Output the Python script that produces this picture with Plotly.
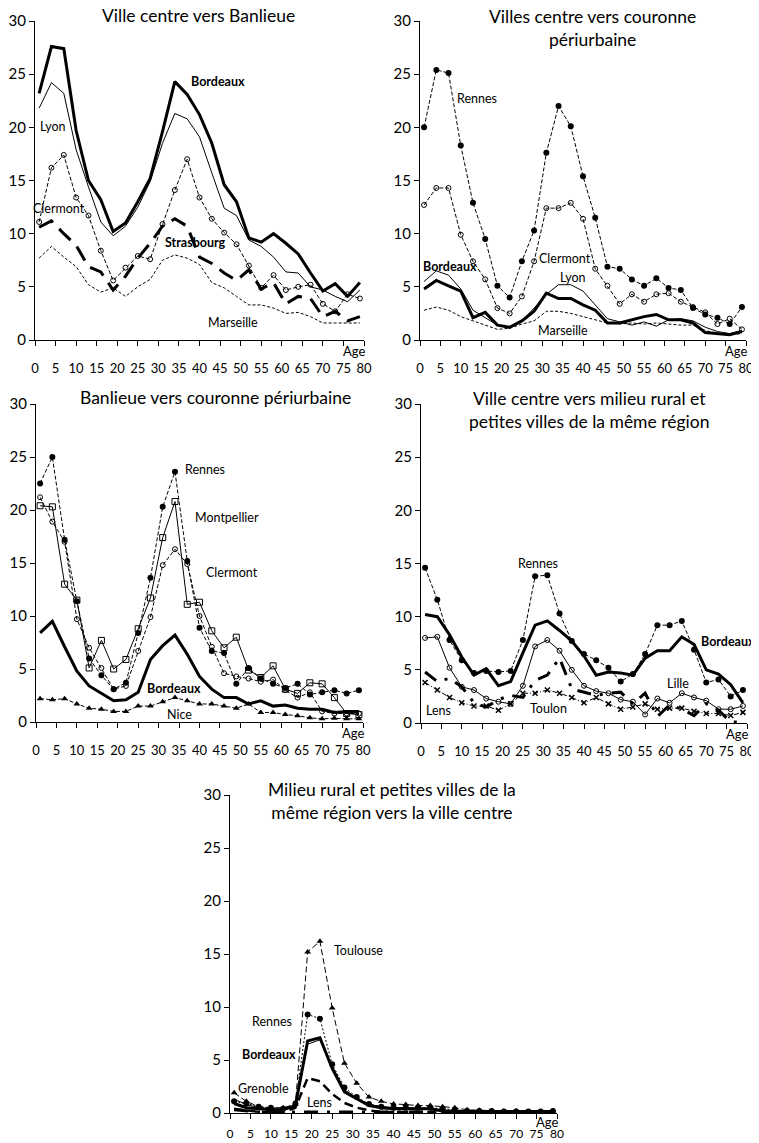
import plotly.graph_objects as go

ages = list(range(1, 80, 3))  # 1, 4, ..., 79

# Panel 1 : Ville centre vers Banlieue
p1_bordeaux = [23.2, 27.6, 27.4, 19.7, 15.0, 13.2, 10.2, 11.0, 13.0, 15.2, 19.6, 24.3, 23.1, 21.2,
               18.5, 14.6, 13.0, 9.6, 9.2, 10.0, 9.1, 8.1, 6.3, 4.6, 5.3, 4.1, 5.4]
p1_lyon = [21.8, 24.2, 23.2, 17.9, 14.4, 11.1, 9.8, 10.7, 12.5, 14.9, 18.5, 21.3, 20.8, 19.1,
           15.7, 12.4, 11.7, 9.4, 8.8, 7.8, 6.4, 6.3, 5.0, 4.7, 4.1, 3.6, 4.7]
p1_clermont = [11.1, 16.2, 17.4, 13.4, 11.7, 8.4, 5.6, 6.8, 7.9, 7.6, 10.9, 14.1, 17.0, 13.4,
               11.4, 10.1, 9.0, 7.0, 4.9, 6.1, 4.7, 5.0, 5.2, 3.4, 2.7, 4.3, 3.9]
p1_strasbourg = [10.6, 11.2, 10.0, 8.9, 6.9, 6.4, 4.7, 6.0, 7.7, 9.1, 10.7, 11.4, 10.7, 7.8,
                 7.2, 6.3, 5.6, 6.6, 4.8, 5.4, 3.4, 4.1, 3.9, 2.2, 2.7, 1.8, 2.2]
p1_marseille = [7.7, 8.8, 7.8, 6.9, 5.2, 4.5, 4.9, 4.1, 5.0, 5.7, 7.5, 8.0, 7.7, 7.1,
                5.4, 4.9, 4.1, 3.3, 3.3, 3.0, 2.5, 2.6, 2.2, 1.6, 1.6, 1.6, 1.6]

# Panel 2 : Villes centre vers couronne periurbaine
p2_rennes = [20.0, 25.4, 25.1, 18.3, 12.9, 9.5, 5.1, 4.0, 7.4, 10.3, 17.6, 22.0, 20.1, 15.4,
             11.5, 6.9, 6.7, 5.7, 5.1, 5.8, 4.9, 4.7, 3.0, 2.4, 2.1, 1.5, 3.1]
p2_clermont = [12.7, 14.3, 14.3, 9.9, 7.4, 5.7, 3.0, 2.5, 4.1, 7.4, 12.4, 12.4, 12.9, 11.4,
               6.7, 5.1, 3.4, 4.3, 3.6, 4.3, 4.4, 3.6, 3.1, 2.6, 1.5, 2.0, 1.0]
p2_bordeaux = [4.8, 5.6, 5.1, 4.6, 2.1, 2.6, 1.4, 1.2, 1.8, 2.7, 4.4, 3.9, 3.9, 3.3,
               2.8, 1.6, 1.6, 1.9, 2.2, 2.4, 1.9, 1.9, 1.6, 0.7, 0.6, 0.5, 0.8]
p2_lyon = [5.5, 6.5, 6.1, 4.8, 2.8, 2.1, 1.4, 1.1, 1.8, 3.0, 4.3, 5.2, 5.2, 4.6,
           3.3, 2.0, 1.7, 1.4, 1.7, 1.3, 1.9, 2.0, 1.8, 1.2, 0.8, 0.6, 0.9]
p2_marseille = [2.8, 3.1, 2.8, 2.2, 1.8, 1.4, 1.0, 1.1, 1.5, 1.8, 2.7, 2.7, 2.5, 2.2,
                1.9, 1.6, 1.5, 1.6, 1.5, 1.6, 1.5, 1.4, 1.4, 0.9, 0.6, 0.5, 0.6]

# Panel 3 : Banlieue vers couronne periurbaine
p3_rennes = [22.5, 25.0, 17.2, 11.4, 6.0, 4.4, 3.1, 3.7, 8.4, 13.6, 20.3, 23.6, 15.2, 8.9,
             6.7, 6.5, 3.6, 5.1, 4.1, 3.6, 3.2, 3.6, 2.6, 2.8, 3.0, 2.7, 3.0]
p3_montpellier = [20.4, 20.3, 13.0, 11.5, 5.1, 7.7, 5.0, 5.9, 8.8, 11.7, 17.4, 20.8, 11.1, 11.3,
                  8.6, 7.0, 8.0, 4.9, 4.2, 5.3, 3.1, 2.7, 3.7, 3.6, 2.3, 0.8, 0.7]
p3_clermont = [21.2, 18.9, 17.0, 9.7, 7.0, 5.1, 3.1, 3.4, 6.7, 9.9, 14.8, 16.3, 14.9, 10.0,
               7.1, 4.6, 4.3, 4.1, 3.8, 4.0, 3.0, 2.3, 2.8, 1.0, 0.8, 0.8, 0.8]
p3_bordeaux = [8.4, 9.5, 7.1, 4.8, 3.4, 2.7, 2.0, 2.1, 2.8, 5.9, 7.2, 8.2, 6.4, 4.3,
               3.1, 2.3, 2.3, 1.7, 2.0, 1.5, 1.6, 1.3, 1.2, 1.2, 0.9, 1.0, 1.0]
p3_nice = [2.2, 2.1, 2.2, 1.7, 1.3, 1.2, 1.0, 1.0, 1.5, 1.5, 1.9, 2.3, 2.0, 1.7,
           1.7, 1.5, 1.3, 1.7, 0.9, 0.9, 0.7, 0.6, 0.4, 0.3, 0.35, 0.3, 0.3]

# Panel 4 : Ville centre vers milieu rural et petites villes de la meme region
p4_rennes = [14.6, 11.6, 7.8, 5.9, 4.7, 4.9, 4.8, 4.9, 7.8, 13.8, 13.9, 10.3, 7.7, 6.5,
             5.9, 5.2, 3.9, 4.6, 6.5, 9.2, 9.2, 9.6, 6.9, 3.8, 4.1, 2.5, 3.1]
p4_bordeaux = [10.2, 10.0, 8.3, 6.2, 4.5, 5.1, 3.5, 3.9, 6.6, 9.2, 9.6, 8.7, 7.7, 6.3,
               4.5, 4.8, 4.7, 4.5, 6.1, 6.8, 6.8, 8.1, 7.4, 5.0, 4.6, 3.6, 1.9]
p4_lille = [8.0, 8.1, 5.2, 3.4, 3.1, 2.3, 2.0, 1.8, 3.5, 7.2, 7.8, 6.8, 5.0, 3.5,
            3.0, 2.8, 2.2, 2.0, 0.8, 2.3, 1.9, 2.8, 2.4, 2.1, 1.3, 1.3, 1.6]
p4_toulon = [3.8, 3.1, 2.4, 1.9, 1.6, 1.6, 1.2, 1.8, 2.8, 2.8, 3.1, 2.8, 2.4, 1.9,
             2.4, 1.8, 1.3, 1.5, 1.8, 1.3, 1.4, 1.4, 1.1, 0.9, 0.9, 0.7, 1.0]
p4_lens = [4.8, 3.9, 4.2, 3.4, 1.9, 1.5, 2.2, 2.6, 2.4, 4.0, 4.5, 6.1, 3.2, 2.9,
           2.6, 2.8, 2.9, 1.8, 2.8, 0.6, 1.7, 1.3, 0.7, 1.8, 1.2, 0.1, 0.1]

# Panel 5 : Milieu rural et petites villes de la meme region vers la ville centre
p5_toulouse = [1.9, 1.1, 0.6, 0.5, 0.5, 0.8, 15.2, 16.2, 9.9, 4.7, 2.8, 1.5, 1.1, 0.85,
               0.8, 0.7, 0.7, 0.6, 0.5, 0.3, 0.25, 0.2, 0.2, 0.2, 0.15, 0.15, 0.2]
p5_rennes = [1.1, 0.9, 0.6, 0.5, 0.4, 0.9, 9.3, 8.9, 4.6, 2.4, 1.5, 0.85, 0.6, 0.5,
             0.5, 0.5, 0.5, 0.4, 0.3, 0.2, 0.2, 0.2, 0.15, 0.15, 0.15, 0.15, 0.2]
p5_bordeaux = [0.9, 0.5, 0.4, 0.3, 0.3, 0.7, 6.8, 7.1, 4.2, 2.0, 1.35, 0.7, 0.5, 0.4,
               0.4, 0.4, 0.4, 0.2, 0.15, 0.15, 0.15, 0.15, 0.15, 0.15, 0.15, 0.15, 0.15]
p5_grenoble = [1.3, 0.8, 0.5, 0.4, 0.3, 0.6, 6.5, 6.9, 4.4, 2.2, 1.4, 0.8, 0.6, 0.5,
               0.5, 0.4, 0.4, 0.3, 0.2, 0.2, 0.15, 0.15, 0.15, 0.15, 0.15, 0.15, 0.2]
p5_lens = [0.4, 0.25, 0.1, 0.1, 0.1, 0.5, 3.3, 3.0, 1.8, 0.95, 0.5, 0.25, 0.1, 0.1,
           0.1, 0.1, 0.1, 0.1, 0.1, 0.1, 0.1, 0.1, 0.1, 0.1, 0.1, 0.1, 0.1]
p5_autre = [0.3, 0.2, 0.1, 0.1, 0.1, 0.1, 0.1, 0.1, 0.1, 0.1, 0.1, 0.1, 0.1, 0.1,
            0.1, 0.1, 0.1, 0.1, 0.1, 0.1, 0.1, 0.1, 0.1, 0.1, 0.1, 0.1, 0.1]

FONT = "Lato"
OFF = 8  # page body margin
W, H = 759 - OFF, 1143 - OFF

# styles
thick = dict(color="black", width=3)
thin = dict(color="black", width=1)
thin_dash = dict(color="black", width=1, dash="4px,2px")
fine_dash = dict(color="black", width=1, dash="3px,2px")
long_dash = dict(color="black", width=3, dash="16px,9px")
mid_dash = dict(color="black", width=2.5, dash="9px,5px")
dash_dot = dict(color="black", width=1, dash="5px,2px,1px,2px")
long_dash_dot = dict(color="black", width=3, dash="14px,9px,3px,9px")

open_circle = dict(symbol="circle-open", size=5, color="black", line=dict(width=1, color="black"))
full_circle = dict(symbol="circle", size=6, color="black")
open_square = dict(symbol="square-open", size=6, color="black", line=dict(width=1, color="black"))
triangle = dict(symbol="triangle-up", size=6, color="black")
cross = dict(symbol="x-thin-open", size=5, color="black", line=dict(width=1.5, color="black"))

fig = go.Figure()


def add(n, name, values, line, marker=None):
    fig.add_trace(go.Scatter(
        x=ages, y=values, name=name,
        mode="lines+markers" if marker else "lines",
        line=line, marker=marker,
        xaxis="x" if n == 1 else f"x{n}",
        yaxis="y" if n == 1 else f"y{n}",
        showlegend=False,
    ))


add(1, "Marseille", p1_marseille, fine_dash)
add(1, "Clermont", p1_clermont, thin_dash, open_circle)
add(1, "Strasbourg", p1_strasbourg, long_dash)
add(1, "Lyon", p1_lyon, thin)
add(1, "Bordeaux", p1_bordeaux, thick)

add(2, "Marseille", p2_marseille, fine_dash)
add(2, "Lyon", p2_lyon, thin)
add(2, "Bordeaux", p2_bordeaux, thick)
add(2, "Clermont", p2_clermont, thin_dash, open_circle)
add(2, "Rennes", p2_rennes, thin_dash, full_circle)

add(3, "Nice", p3_nice, thin_dash, triangle)
add(3, "Bordeaux", p3_bordeaux, thick)
add(3, "Clermont", p3_clermont, thin_dash, open_circle)
add(3, "Montpellier", p3_montpellier, thin, open_square)
add(3, "Rennes", p3_rennes, thin_dash, full_circle)

add(4, "Toulon", p4_toulon, dash_dot, cross)
add(4, "Lens", p4_lens, long_dash_dot)
add(4, "Lille", p4_lille, thin, open_circle)
add(4, "Bordeaux", p4_bordeaux, thick)
add(4, "Rennes", p4_rennes, thin_dash, full_circle)

add(5, "Autre", p5_autre, long_dash_dot)
add(5, "Lens", p5_lens, mid_dash)
add(5, "Grenoble", p5_grenoble, thin)
add(5, "Bordeaux", p5_bordeaux, thick)
add(5, "Rennes", p5_rennes, dict(color="black", width=1, dash="2px,2px"), full_circle)
add(5, "Toulouse", p5_toulouse, dict(color="black", width=1, dash="6px,3px"), triangle)


# page pixel -> paper coordinate (the page body adds an 8 px margin)
def px_x(px):
    return (px - OFF) / W


def px_y(py):
    return 1 - (py - OFF) / H


# panel boxes in page pixels: (x_left, x_right, y_top(30), y_bottom(0))
boxes = {
    1: (35, 364, 21, 340),
    2: (420, 746, 21, 340),
    3: (36, 363, 404, 722),
    4: (421, 747, 404, 723),
    5: (230, 557, 795, 1113),
}

layout = {}
annotations = []
for n, (xl, xr, yt, yb) in boxes.items():
    sx = "" if n == 1 else str(n)
    layout[f"xaxis{sx}"] = dict(
        domain=[px_x(xl), px_x(xr)], range=[0, 80], anchor=f"y{sx}",
        tickvals=list(range(0, 81, 5)), ticks="outside", ticklen=5, tickcolor="black",
        showline=True, linecolor="black", linewidth=1, showgrid=False, zeroline=False,
        tickfont=dict(family=FONT, size=13 if n != 5 else 12, color="black"),
        fixedrange=True, automargin=False,
        ticklabelstandoff=11 if n != 5 else 5,
    )
    layout[f"yaxis{sx}"] = dict(
        domain=[px_y(yb), px_y(yt)], range=[0, 30], anchor=f"x{sx}",
        tickvals=list(range(0, 31, 5)), ticks="outside", ticklen=5, tickcolor="black",
        showline=True, linecolor="black", linewidth=1, showgrid=False, zeroline=False,
        tickfont=dict(family=FONT, size=15, color="black"), fixedrange=True, automargin=False,
    )
    # "Age" label just above the last x tick label
    annotations.append(dict(
        text="Age", x=px_x(xr - 10), y=px_y(yb + (11 if n != 5 else 9)),
        xref="paper", yref="paper", showarrow=False, xanchor="center", yanchor="middle",
        font=dict(family=FONT, size=13, color="black"),
    ))

titles = [
    ("Ville centre vers Banlieue", 198, 16),
    ("Villes centre vers couronne<br>périurbaine", 592, 28),
    ("Banlieue vers couronne périurbaine", 215, 397),
    ("Ville centre vers milieu rural et<br>petites villes de la même région", 589, 410),
    ("Milieu rural et petites villes de la<br>même région vers la ville centre", 392, 801),
]

for text, px, py in titles:
    annotations.append(dict(
        text=text, x=px_x(px), y=px_y(py), xref="paper", yref="paper",
        xanchor="center", yanchor="middle", showarrow=False,
        font=dict(family=FONT, size=17.5, color="black"),
    ))

labels = [
    (1, "<b>Bordeaux</b>", 44.5, 24.3), (1, "Lyon", 4.4, 20.1), (1, "Clermont", 5.9, 12.4),
    (1, "<b>Strasbourg</b>", 39, 9.2), (1, "Marseille", 48.2, 1.6),
    (2, "Rennes", 14.0, 22.7), (2, "Clermont", 35.6, 7.7), (2, "<b>Bordeaux</b>", 7.4, 6.9),
    (2, "Lyon", 37.5, 5.9), (2, "Marseille", 35.1, 0.9),
    (3, "Rennes", 41.3, 23.8), (3, "Montpellier", 46.7, 19.3), (3, "Clermont", 47.9, 14.1),
    (3, "<b>Bordeaux</b>", 33.8, 3.2), (3, "Nice", 35.2, 0.75),
    (4, "Rennes", 28.7, 15.0), (4, "<b>Bordeaux</b>", 75.3, 7.7), (4, "Lille", 63.0, 3.7),
    (4, "Toulon", 31.2, 1.4), (4, "Lens", 4.2, 1.2),
    (5, "Toulouse", 31.5, 15.3), (5, "Rennes", 10.3, 8.6), (5, "<b>Bordeaux</b>", 9.5, 5.5),
    (5, "Grenoble", 8.1, 2.3), (5, "Lens", 22, 1.0),
]
for n, text, x, y in labels:
    sx = "" if n == 1 else str(n)
    annotations.append(dict(
        text=text, x=x, y=y, xref=f"x{sx}", yref=f"y{sx}", showarrow=False,
        xanchor="center", yanchor="middle",
        font=dict(family=FONT, size=12.5, color="black"),
    ))

fig.update_layout(
    width=W, height=H,
    margin=dict(l=0, r=0, t=0, b=0),
    plot_bgcolor="white", paper_bgcolor="white",
    annotations=annotations,
    **layout,
)

fig.write_html("out.html")
